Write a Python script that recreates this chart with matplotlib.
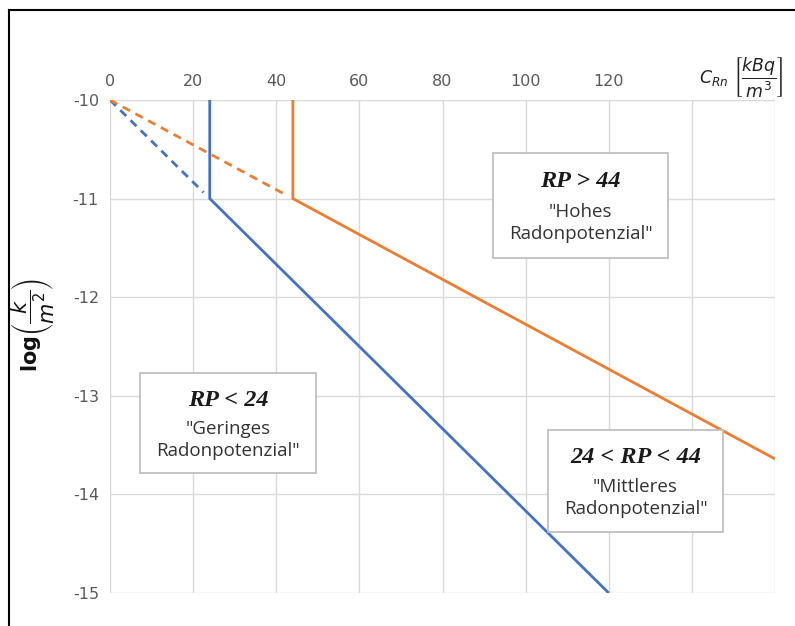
import matplotlib
matplotlib.use("Agg")
import matplotlib.pyplot as plt
from matplotlib.lines import Line2D

# data
blue_x = [24, 24, 120]
blue_y = [-10, -11, -15]
blue_dash_x = [0, 22.5]
blue_dash_y = [-10, -10 - 22.5 / 24]
orange_x = [44, 44, 160]
orange_y = [-10, -11, -13.64]
orange_dash_x = [0, 42.0]
orange_dash_y = [-10, -10 - 42.0 / 44]
x_ticks = [0, 20, 40, 60, 80, 100, 120]
y_ticks = [-10, -11, -12, -13, -14, -15]

BLUE = "#4472C4"
ORANGE = "#ED7D31"
GRID = "#D9D9D9"
TICK = "#595959"

fig = plt.figure(figsize=(7.95, 6.26), dpi=100)
ax = fig.add_axes([110/795, 1-593/626, 665/795, 493/626])

ax.set_xlim(0, 160)
ax.set_ylim(-15, -10)
ax.set_xticks(x_ticks)
for xv in range(0, 161, 20):
    ax.axvline(xv, color=GRID, lw=1.0, zorder=0)
for yv in range(-15, -9):
    ax.axhline(yv, color=GRID, lw=1.0, zorder=0)
ax.set_yticks(y_ticks)
ax.set_yticklabels([str(v) for v in y_ticks])
ax.xaxis.tick_top()
ax.tick_params(axis="both", length=0, labelsize=11.5, labelcolor=TICK, pad=8)
for s in ax.spines.values():
    s.set_visible(False)

ax.plot(blue_x, blue_y, color=BLUE, lw=2, zorder=3, solid_capstyle="butt")
ax.plot(orange_x, orange_y, color=ORANGE, lw=2, zorder=3, solid_capstyle="butt")
ax.plot(blue_dash_x, blue_dash_y, color=BLUE, lw=2, ls=(0, (3, 2.2)), zorder=3)
ax.plot(orange_dash_x, orange_dash_y, color=ORANGE, lw=2, ls=(0, (3, 2.2)), zorder=3)


def draw_box(x0, y0, x1, y1, title, body):
    inv = ax.transData.inverted()
    (dx0, dy0) = inv.transform((x0, 626 - y0))
    (dx1, dy1) = inv.transform((x1, 626 - y1))
    rect = plt.Rectangle((dx0, dy1), dx1 - dx0, dy0 - dy1, fc="white",
                         ec="#BFBFBF", lw=1.3, zorder=4)
    ax.add_patch(rect)
    cx = (dx0 + dx1) / 2
    hgt = dy0 - dy1
    ax.text(cx, dy0 - hgt * 0.27, title, ha="center", va="center",
            fontsize=17.5, fontweight="bold", fontstyle="italic",
            family="Liberation Serif", color="#1a1a1a", zorder=5)
    ax.text(cx, dy0 - hgt * 0.67, body, ha="center", va="center",
            fontsize=13.5, color="#333333", zorder=5, linespacing=1.3,
            family="Open Sans")


fig.canvas.draw()
draw_box(493, 153, 668, 258, "RP > 44", "\"Hohes\nRadonpotenzial\"")
draw_box(140, 373, 316, 473, "RP < 24", "\"Geringes\nRadonpotenzial\"")
draw_box(548, 430, 723, 532, "24 < RP < 44", "\"Mittleres\nRadonpotenzial\"")

fig.text(699/795, 1-77/626, r"$C_{Rn}\ \left[\dfrac{kBq}{m^3}\right]$",
         ha="left", va="center", fontsize=12.5, color="#222222")
fig.text(32/795, 1-325/626, r"$\mathbf{log}\left(\dfrac{k}{m^2}\right)$",
         ha="center", va="center", rotation=90, fontsize=15, color="#111111")

# outer frame (top and left)
fig.add_artist(Line2D([9/795, 1], [1-10/626, 1-10/626], color="black", lw=1.5))
fig.add_artist(Line2D([9/795, 9/795], [0, 1-10/626], color="black", lw=1.5))

fig.savefig("out.png", dpi=100)
